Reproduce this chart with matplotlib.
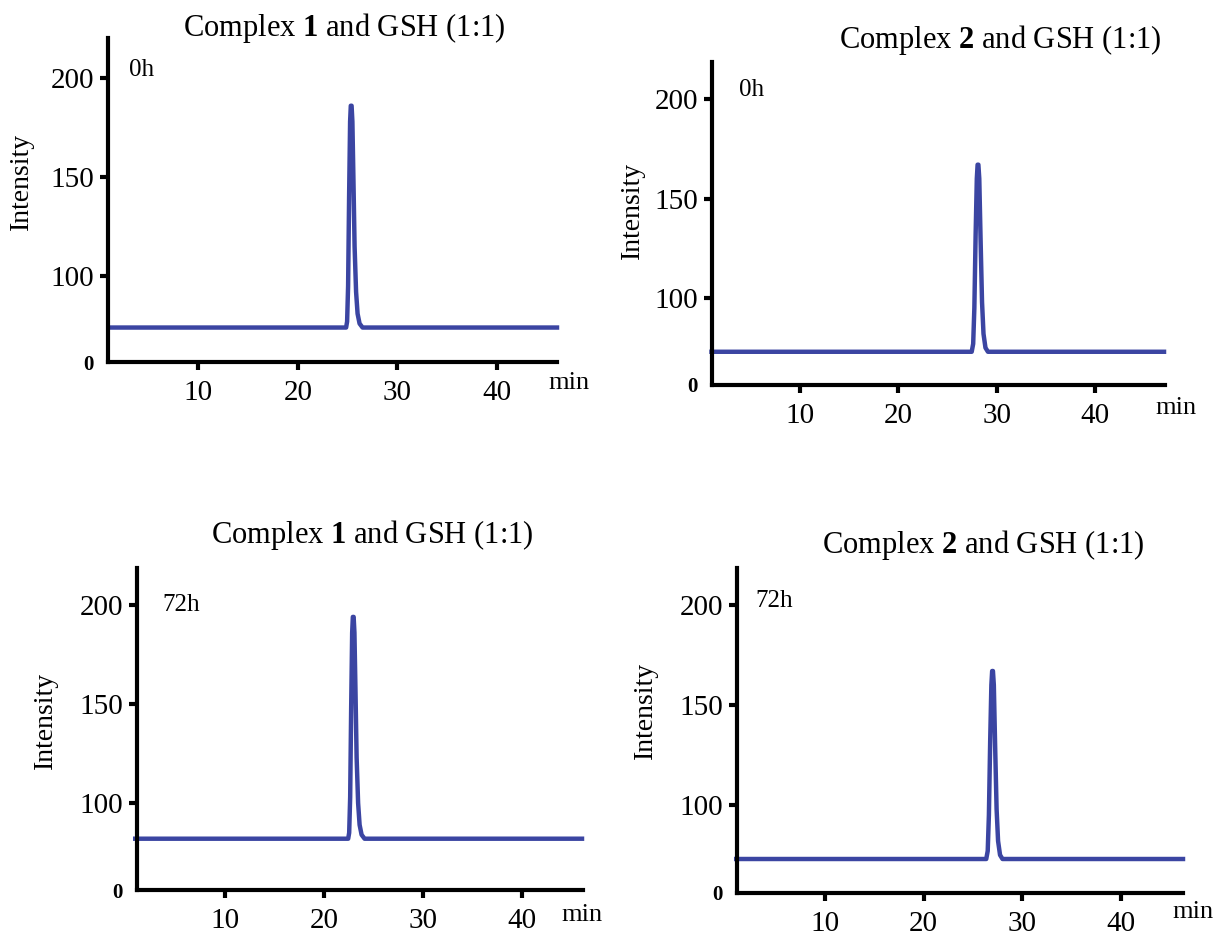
import matplotlib
matplotlib.use("Agg")
import matplotlib.pyplot as plt

plt.rcParams['font.family'] = ['Liberation Serif', 'DejaVu Serif']
plt.rcParams['mathtext.fontset'] = 'custom'
plt.rcParams['mathtext.rm'] = 'Liberation Serif'
plt.rcParams['mathtext.bf'] = 'Liberation Serif:bold'

# traces: retention time (min) vs intensity
time_1_0h = [1, 24.85, 24.95, 25.05, 25.15, 25.25, 25.32, 25.4, 25.48, 25.58, 25.7, 25.85, 26.0, 26.2, 26.5, 46]
int_1_0h = [74, 74, 77, 95, 140, 178, 186, 186, 178, 150, 115, 92, 81, 76, 74, 74]

time_2_0h = [1, 27.45, 27.6, 27.72, 27.85, 27.97, 28.05, 28.13, 28.22, 28.35, 28.5, 28.65, 28.85, 29.1, 47]
int_2_0h = [73, 73, 77, 95, 132, 160, 167, 167, 160, 130, 98, 82, 75, 73, 73]

time_1_72h = [1, 22.45, 22.55, 22.65, 22.75, 22.85, 22.92, 23.0, 23.08, 23.18, 23.3, 23.45, 23.6, 23.8, 24.1, 46]
int_1_72h = [82, 82, 85, 103, 148, 186, 194, 194, 186, 158, 123, 100, 89, 84, 82, 82]

time_2_72h = [1, 26.35, 26.5, 26.62, 26.75, 26.87, 26.95, 27.03, 27.12, 27.25, 27.4, 27.55, 27.75, 28.0, 46.3]
int_2_72h = [73, 73, 77, 95, 132, 160, 167, 167, 160, 130, 98, 82, 75, 73, 73]

titles = [r"Complex $\mathbf{1}$ and GSH (1:1)", r"Complex $\mathbf{2}$ and GSH (1:1)",
          r"Complex $\mathbf{1}$ and GSH (1:1)", r"Complex $\mathbf{2}$ and GSH (1:1)"]
times_lbl = ["0h", "0h", "72h", "72h"]
xticks = [10, 20, 30, 40]
yticks = [100, 150, 200]

W, H = 1225, 935
fig = plt.figure(figsize=(W / 100, H / 100), dpi=100)

# axes boxes in pixels: left, right, top, bottom
boxes = [(108, 557, 38, 362), (712, 1165, 62, 385), (137, 583, 568, 890), (737, 1183, 568, 893)]
xlims = [(0.97, 46.0), (1.05, 47.1), (1.18, 46.1), (1.08, 46.3)]
ylims = [(56.6, 220.2), (56.3, 218.6), (56.1, 218.7), (56.0, 218.5)]
title_pos = [(344, 28), (1000, 40), (372, 535), (983, 545)]
lbl_pos = [(0.047, 0.90), (0.06, 0.913), (0.056, 0.885), (0.041, 0.898)]
ylab_x = [21, 632, 45, 645]
ylab_y = [181, 210, 720, 710]
min_off = [(-9, -21), (-10, -23), (-22, -25), (-11, -19)]

traces = [(time_1_0h, int_1_0h), (time_2_0h, int_2_0h), (time_1_72h, int_1_72h), (time_2_72h, int_2_72h)]

for i, (l, r, t, b) in enumerate(boxes):
    ax = fig.add_axes([l / W, 1 - b / H, (r - l) / W, (b - t) / H])
    x, y = traces[i]
    ax.plot(x, y, color='#3b45a2', lw=3.2, solid_joinstyle='round', clip_on=False)
    ax.set_xlim(*xlims[i])
    ax.set_ylim(*ylims[i])
    ax.spines['top'].set_visible(False)
    ax.spines['right'].set_visible(False)
    for s in ['left', 'bottom']:
        ax.spines[s].set_linewidth(3)
    ax.set_xticks(xticks)
    ax.set_yticks([ylims[i][0]] + yticks)
    ax.set_yticklabels(["0"] + [str(v) for v in yticks])
    ax.tick_params(axis='both', length=6, width=3, labelsize=21, pad=4)
    ax.tick_params(axis='x', pad=7)
    t0 = ax.yaxis.get_major_ticks()[0]
    t0.tick1line.set_visible(False)
    t0.label1.set_fontweight('bold')
    t0.label1.set_fontsize(15)

    ax.set_ylabel("Intensity", fontsize=20, va='center')
    ax.yaxis.set_label_coords((ylab_x[i] - l) / (r - l), (b - ylab_y[i]) / (b - t))

    ax.text(lbl_pos[i][0], lbl_pos[i][1], times_lbl[i], transform=ax.transAxes,
            fontsize=18, ha='left', va='center')
    ax.annotate("min", xy=(1, 0), xycoords='axes fraction', xytext=min_off[i],
                textcoords='offset pixels', fontsize=19, ha='left', va='center',
                annotation_clip=False)
    fig.text(title_pos[i][0] / W, 1 - title_pos[i][1] / H, titles[i], fontsize=22,
             ha='center', va='center')

fig.savefig("out.png", dpi=100)
